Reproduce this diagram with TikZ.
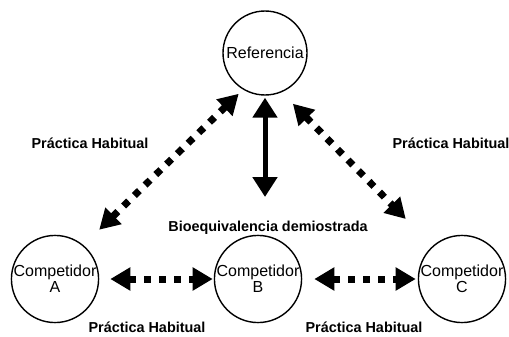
\documentclass[tikz,border=0pt]{standalone}
\usepackage{fontspec}
\setmainfont{Liberation Sans}
\usepackage{tikz}
\usetikzlibrary{arrows.meta, positioning}

\begin{document}
\begin{tikzpicture}[
    x=1pt, y=-1pt,
    actor/.style={draw, circle, line width=1.4pt, minimum size=84pt, inner sep=0pt,
                  align=center, font=\fontsize{16}{16}\selectfont},
    tag/.style={font=\fontsize{14.4}{16}\selectfont\bfseries},
    habitual/.style={line width=7pt, dash pattern=on 7pt off 8pt,
                     {Triangle[length=20pt,width=22pt]}-{Triangle[length=20pt,width=22pt]}},
    bioeq/.style={line width=5pt,
                  {Triangle[length=20pt,width=24pt]}-{Triangle[length=20pt,width=24pt]}},
]
    \useasboundingbox (0,0) rectangle (509,337);

    % the four products
    \node[actor] (ref) at (265,53) {Referencia};
    \node[actor] (ca) at (55,279) {Competidor\\A};
    \node[actor] (cb) at (258,279) {Competidor\\B};
    \node[actor] (cc) at (462,279) {Competidor\\C};

    % reference to each competitor
    \coordinate (bioend) at (265,197);
    \draw[bioeq, shorten <=2pt] (ref.south) -- (bioend);
    \draw[habitual, shorten <=6pt, shorten >=22pt] (ref.239) -- (ca.50);
    \draw[habitual, shorten <=16pt, shorten >=38pt] (ref.293) -- (cc.132);

    % between competitors
    \draw[habitual, shorten <=11pt, shorten >=1pt] (ca.east) -- (cb.west);
    \draw[habitual, shorten <=12pt, shorten >=2pt] (cb.east) -- (cc.west);

    % labels
    \node[tag] (tagar) at (90,143) {Práctica Habitual};
    \node[tag] (tagrc) at (451,143) {Práctica Habitual};
    \node[tag] (tagbio) at (268,228) {Bioequivalencia demiostrada};
    \node[tag] (tagab) at (147,327) {Práctica Habitual};
    \node[tag] (tagbc) at (364,327) {Práctica Habitual};
\end{tikzpicture}
\end{document}
